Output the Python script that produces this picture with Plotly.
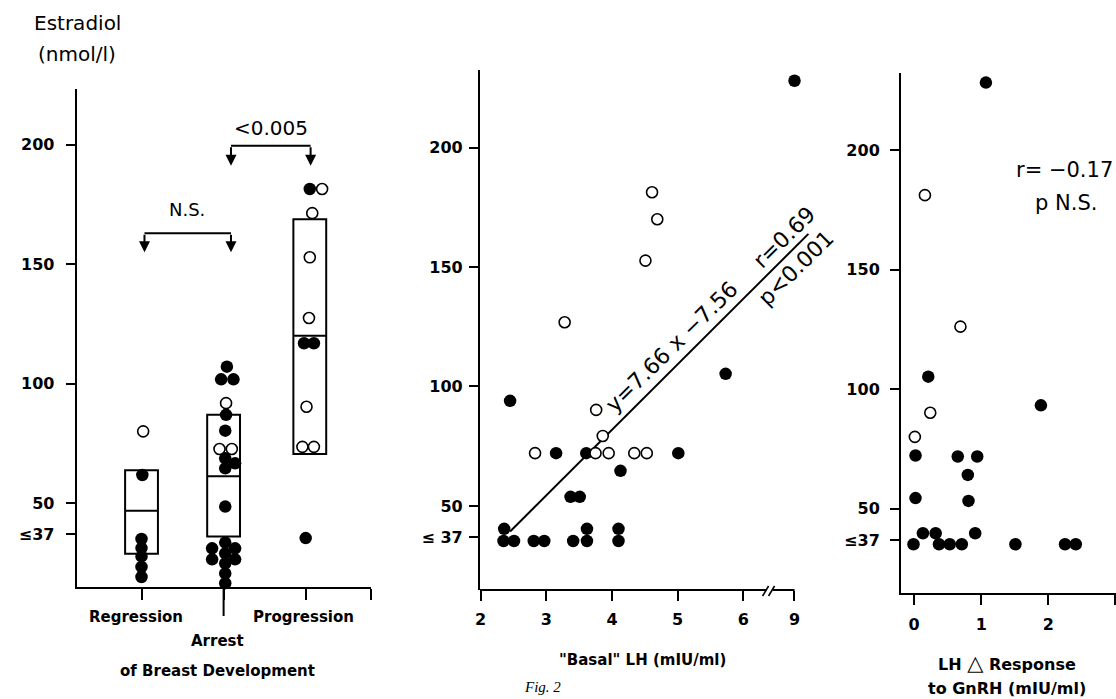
import plotly.graph_objects as go

W, H = 1116, 699

# ---------------- Panel A: Estradiol by course of breast development ----------------
CATEGORIES = ["Regression", "Arrest", "Progression"]
CAT_POS = [1, 2, 3]
BOX_Q1 = [28.7, 36.0, 70.5]
BOX_MED = [46.7, 61.2, 120.0]
BOX_Q3 = [63.7, 87.0, 168.8]
BOX_DX = [0.0, 0.0, 0.05]

REG_FILLED_Y = [61.7, 34.9, 31.1, 27.6, 23.2, 19.0]
REG_FILLED_DX = [0.01, 0.0, 0.0, 0.0, 0.0, 0.0]
REG_OPEN_Y = [80.0]
REG_OPEN_DX = [0.02]

ARR_FILLED_Y = [107.1, 101.8, 101.8, 86.9, 80.3, 68.7, 66.6, 64.5, 48.5,
                33.4, 31.0, 31.0, 28.9, 26.4, 26.4, 24.7, 20.5, 16.4]
ARR_FILLED_DX = [0.04, -0.03, 0.12, 0.03, 0.02, 0.02, 0.14, 0.02, 0.02,
                 0.02, -0.14, 0.14, 0.02, -0.14, 0.14, 0.02, 0.02, 0.02]
ARR_OPEN_Y = [91.8, 72.6, 72.6]
ARR_OPEN_DX = [0.03, -0.05, 0.10]

PRO_FILLED_Y = [181.5, 116.9, 116.9, 35.3]
PRO_FILLED_DX = [0.05, -0.02, 0.10, 0.0]
PRO_OPEN_Y = [181.5, 171.4, 152.9, 127.5, 90.3, 73.5, 73.5]
PRO_OPEN_DX = [0.20, 0.08, 0.05, 0.04, 0.01, -0.04, 0.10]

# ---------------- Panel B: basal LH ----------------
BASAL_LH_FILLED = [9.0, 5.73, 2.45, 3.15, 3.61, 5.01, 4.13, 3.37, 3.51,
                   2.36, 3.62, 4.10, 2.35, 2.51, 2.81, 2.97, 3.41, 3.62, 4.10]
E2_FILLED_B = [228.0, 105.3, 94.0, 72.1, 72.1, 72.1, 64.7, 53.8, 53.8,
               40.4, 40.4, 40.4, 35.3, 35.3, 35.3, 35.3, 35.3, 35.3, 35.3]
BASAL_LH_OPEN = [4.61, 4.69, 4.51, 3.28, 3.76, 3.86, 2.83, 3.75, 3.95, 4.34, 4.53]
E2_OPEN_B = [181.3, 170.0, 152.7, 126.9, 90.2, 79.3, 72.1, 72.1, 72.1, 72.1, 72.1]
# regression line as drawn (axis units of the broken axis)
FIT_X = [2.45, 6.99]
FIT_Y = [39.3, 163.9]
LH_TICKS = [2, 3, 4, 5, 6, 9]

# ---------------- Panel C: LH delta response ----------------
DLH_FILLED = [1.07, 0.21, 1.89, 0.02, 0.65, 0.94, 0.80, 0.02, 0.81,
              0.13, 0.32, 0.91, -0.01, 0.37, 0.53, 0.71, 1.51, 2.25, 2.41]
E2_FILLED_C = [228.3, 105.3, 93.3, 72.3, 71.9, 71.9, 64.2, 54.5, 53.3,
               39.8, 39.8, 39.8, 35.2, 35.2, 35.2, 35.2, 35.2, 35.2, 35.2]
DLH_OPEN = [0.16, 0.69, 0.24, 0.01]
E2_OPEN_C = [181.2, 126.2, 90.2, 80.1]

Y_TICKVALS = [37, 50, 100, 150, 200]

# broken axis: values beyond the break are shifted so that 9 sits at BREAK_POS9
BREAK_POS9 = 6.778


def lh_pos(v):
    return v if v <= 6.5 else v - (9 - BREAK_POS9)


def px_x(p):
    return p / W


def px_y(p):
    return 1 - p / H


FONT = "DejaVu Sans"
BLACK = "black"

fig = go.Figure()

# --- boxes (panel A)
for i in range(3):
    fig.add_trace(go.Box(
        x=[CAT_POS[i] + BOX_DX[i]], q1=[BOX_Q1[i]], median=[BOX_MED[i]], q3=[BOX_Q3[i]],
        lowerfence=[BOX_Q1[i]], upperfence=[BOX_Q3[i]], width=0.4, whiskerwidth=0,
        line=dict(color=BLACK, width=2), fillcolor="white", boxpoints=False,
        xaxis="x", yaxis="y", showlegend=False, hoverinfo="skip"))

filled_marker = dict(color=BLACK, size=12.5, line=dict(width=0))
open_marker = dict(color="white", size=11, line=dict(color=BLACK, width=1.6))


def add_group(pos, dx, ys, marker):
    fig.add_trace(go.Scatter(x=[pos + d for d in dx], y=ys, mode="markers",
                             marker=marker, xaxis="x", yaxis="y", showlegend=False,
                             cliponaxis=False))


add_group(1, REG_FILLED_DX, REG_FILLED_Y, filled_marker)
add_group(1, REG_OPEN_DX, REG_OPEN_Y, open_marker)
add_group(2, ARR_FILLED_DX, ARR_FILLED_Y, filled_marker)
add_group(2, ARR_OPEN_DX, ARR_OPEN_Y, open_marker)
add_group(3, PRO_FILLED_DX, PRO_FILLED_Y, filled_marker)
add_group(3, PRO_OPEN_DX, PRO_OPEN_Y, open_marker)

# --- panel B
fig.add_trace(go.Scatter(x=FIT_X, y=FIT_Y, mode="lines", line=dict(color=BLACK, width=2),
                         xaxis="x2", yaxis="y2", showlegend=False, cliponaxis=False))
fig.add_trace(go.Scatter(x=[lh_pos(v) for v in BASAL_LH_FILLED], y=E2_FILLED_B, mode="markers",
                         marker=filled_marker, xaxis="x2", yaxis="y2", showlegend=False,
                         cliponaxis=False))
fig.add_trace(go.Scatter(x=[lh_pos(v) for v in BASAL_LH_OPEN], y=E2_OPEN_B, mode="markers",
                         marker=open_marker, xaxis="x2", yaxis="y2", showlegend=False))

# --- panel C
fig.add_trace(go.Scatter(x=DLH_FILLED, y=E2_FILLED_C, mode="markers", marker=filled_marker,
                         xaxis="x3", yaxis="y3", showlegend=False, cliponaxis=False))
fig.add_trace(go.Scatter(x=DLH_OPEN, y=E2_OPEN_C, mode="markers", marker=open_marker,
                         xaxis="x3", yaxis="y3", showlegend=False))

tickfont = dict(family=FONT, size=16, color=BLACK, weight="bold")


def yaxis(domain, rng, anchor, ticktext, standoff):
    return dict(domain=domain, range=rng, anchor=anchor, tickvals=Y_TICKVALS, ticktext=ticktext,
                ticks="outside", ticklen=9, tickwidth=2, tickcolor=BLACK,
                showline=True, linewidth=2, linecolor=BLACK, showgrid=False, zeroline=False,
                tickfont=tickfont, ticklabelstandoff=standoff, fixedrange=True)


fig.update_layout(
    width=W, height=H, margin=dict(l=0, r=0, t=0, b=0),
    paper_bgcolor="white", plot_bgcolor="rgba(0,0,0,0)", showlegend=False,
    xaxis=dict(domain=[px_x(72), px_x(368)], range=[0.21, 3.8], anchor="y",
               tickvals=[1, 2, 3, 3.8], ticktext=["", "", "", ""], ticks="outside",
               ticklen=11, tickwidth=2, tickcolor=BLACK, showline=True, linewidth=2,
               linecolor=BLACK, showgrid=False, zeroline=False),
    yaxis=yaxis([px_y(587), px_y(89)], [14.8, 223.4], "x",
                ["≤37", "50", "100", "150", "200"], 8),
    xaxis2=dict(domain=[px_x(477), px_x(811)], range=[1.99, 7.05], anchor="y2",
                tickvals=[lh_pos(v) for v in LH_TICKS], ticktext=[str(v) for v in LH_TICKS],
                ticks="outside", ticklen=10, tickwidth=2, tickcolor=BLACK, showline=False,
                showgrid=False, zeroline=False, tickfont=tickfont, ticklabelstandoff=5),
    yaxis2=yaxis([px_y(590), px_y(70)], [14.8, 232.5], "x2",
                 ["≤ 37", "50", "100", "150", "200"], 3),
    xaxis3=dict(domain=[px_x(900), 1.0], range=[-0.197, 3.01], anchor="y3",
                tickvals=[0, 1, 2, 3], ticktext=["0", "1", "2", ""], ticks="outside",
                ticklen=10, tickwidth=2, tickcolor=BLACK, showline=True, linewidth=2,
                linecolor=BLACK, showgrid=False, zeroline=False, tickfont=tickfont,
                ticklabelstandoff=6),
    yaxis3=yaxis([px_y(593), px_y(73)], [14.8, 232.3], "x3",
                 ["≤37", "50", "100", "150", "200"], 7),
)

shapes = []
# long tick under "Arrest"
shapes.append(dict(type="line", xref="x", yref="paper", x0=2, x1=2, y0=px_y(587), y1=px_y(616),
                   line=dict(color=BLACK, width=2)))
# significance brackets (panel A)
BRACKETS = [(1.036, 2.09, 163.0, 155.0), (2.09, 3.06, 199.6, 191.2)]
for xa, xb, ytop, ybot in BRACKETS:
    shapes.append(dict(type="line", xref="x", yref="y", x0=xa, x1=xb, y0=ytop, y1=ytop,
                       line=dict(color=BLACK, width=2)))
# broken x axis of panel B
seg_end = 1.99 + (765 - 477) / 66
seg_start = 1.99 + (771 - 477) / 66
shapes.append(dict(type="line", xref="x2", yref="y2 domain", x0=1.99, x1=seg_end, y0=0, y1=0,
                   line=dict(color=BLACK, width=2)))
shapes.append(dict(type="line", xref="x2", yref="y2 domain", x0=seg_start, x1=BREAK_POS9, y0=0,
                   y1=0, line=dict(color=BLACK, width=2)))
for cx in (764, 770):
    shapes.append(dict(type="line", xref="paper", yref="paper",
                       x0=px_x(cx - 3), x1=px_x(cx + 3), y0=px_y(596), y1=px_y(586),
                       line=dict(color=BLACK, width=1.6)))
fig.update_layout(shapes=shapes)

ann = []
for xa, xb, ytop, ybot in BRACKETS:
    for xx in (xa, xb):
        ann.append(dict(x=xx, y=ybot, ax=xx, ay=ytop, xref="x", yref="y", axref="x", ayref="y",
                        text="", showarrow=True, arrowhead=2, arrowsize=1.1, arrowwidth=2,
                        arrowcolor=BLACK))


def label(x, y, text, size=16, weight="normal", xref="paper", yref="paper", angle=0,
          family=FONT, style="normal", yanchor="middle"):
    ann.append(dict(x=x, y=y, xref=xref, yref=yref, text=text, showarrow=False,
                    textangle=angle, xanchor="center", yanchor=yanchor,
                    font=dict(family=family, size=size, color=BLACK, weight=weight,
                              style=style)))


label(1.56, 173, "N.S.", size=18, xref="x", yref="y")
label(2.58, 207, "&lt;0.005", size=20, xref="x", yref="y")

label(px_x(73), px_y(23), "Estradiol", size=20)
label(px_x(72), px_y(54), "(nmol/l)", size=20)

label(px_x(132), px_y(617), "Regression", size=15, weight="bold")
label(px_x(300), px_y(617), "Progression", size=15, weight="bold")
label(px_x(213), px_y(641), "Arrest", size=15, weight="bold")
label(px_x(213), px_y(671), "of Breast Development", size=15, weight="bold")

label(px_x(640), px_y(660), "\"Basal\" LH (mIU/ml)", size=15, weight="bold")
label(px_x(1007), px_y(663), "LH <span style='font-size:21px'>△</span> Response", size=16,
      weight="bold")
label(px_x(1007), px_y(688), "to GnRH (mIU/ml)", size=16, weight="bold")

label(4.91, 116.8, "y=7.66 x −7.56", size=22, xref="x2", yref="y2", angle=-44.6)
label(6.62, 162.4, "r=0.69", size=22, xref="x2", yref="y2", angle=-44.6)
label(6.79, 149.6, "p&lt;0.001", size=22, xref="x2", yref="y2", angle=-44.6)

label(px_x(1064), px_y(170), "r= −0.17", size=21)
label(px_x(1066), px_y(203), "p N.S.", size=21)

label(px_x(540), px_y(697), "Fig. 2", size=15, family="Liberation Serif", style="italic",
      yanchor="bottom")

fig.update_layout(annotations=ann)

fig.write_html(
    "out.html",
    config={"displayModeBar": False},
    post_script=("document.documentElement.style.margin='0';document.body.style.margin='0';"
                 "document.body.style.padding='0';document.body.style.overflow='hidden';"),
)
